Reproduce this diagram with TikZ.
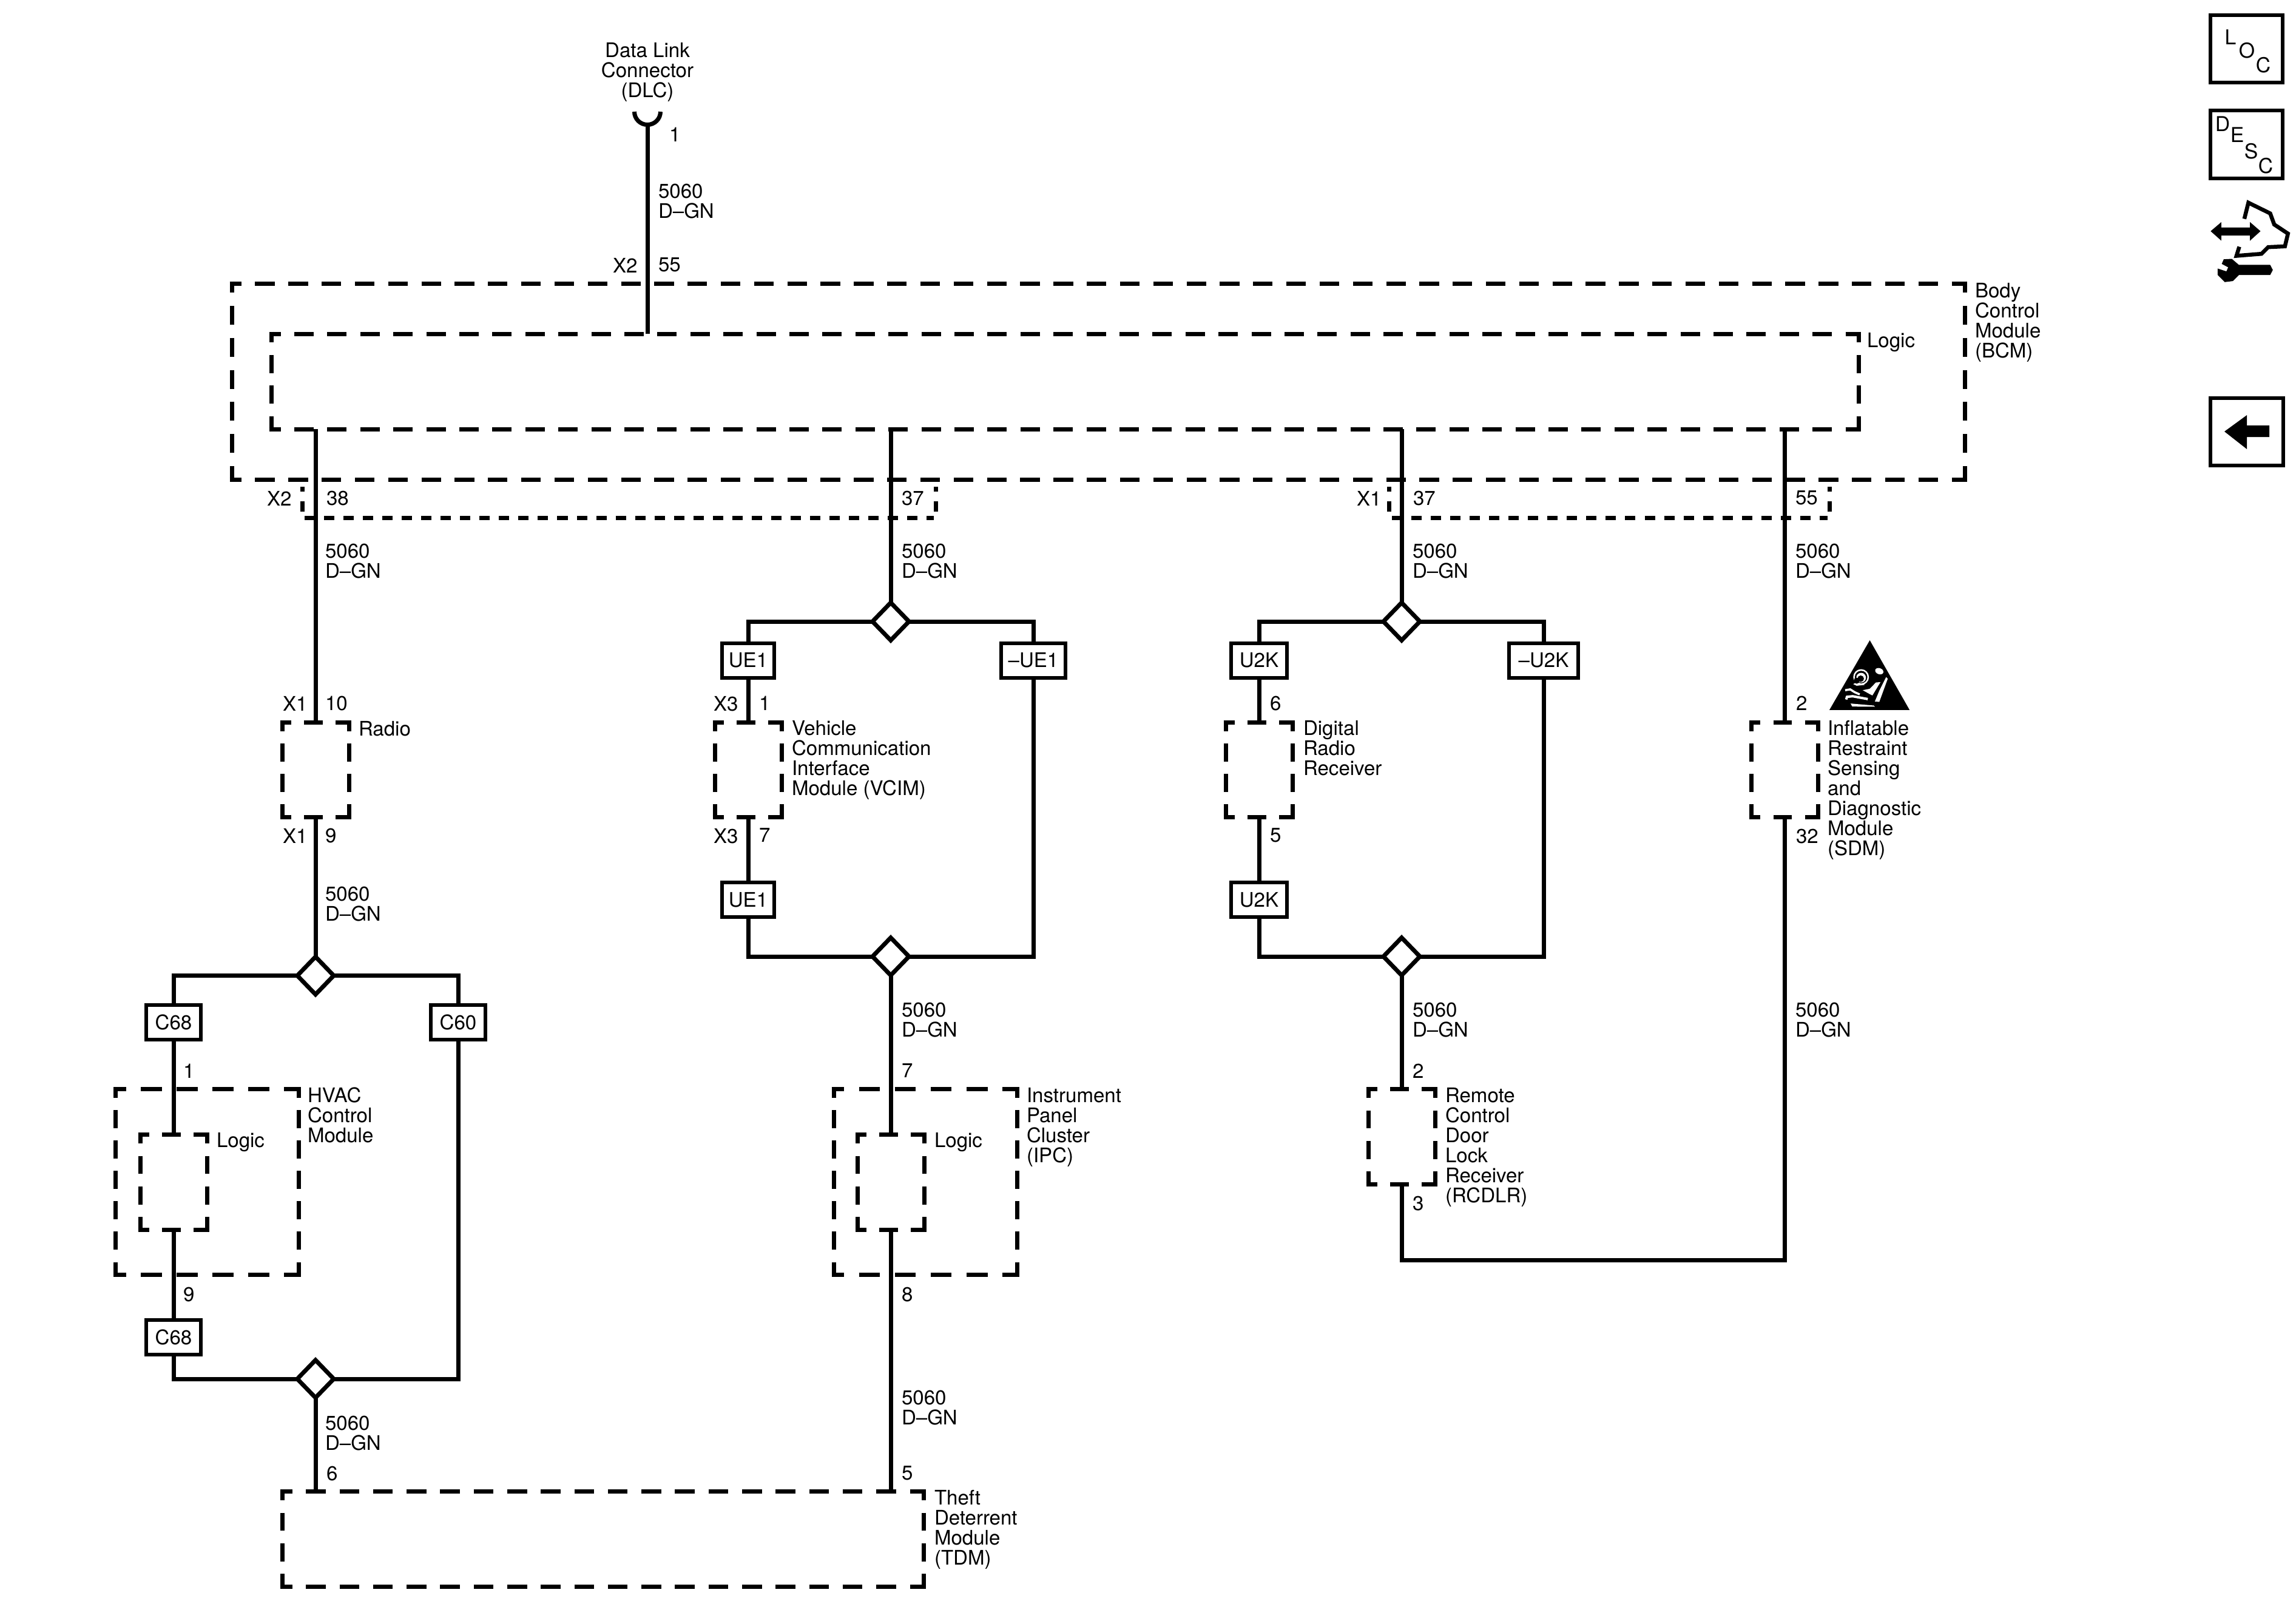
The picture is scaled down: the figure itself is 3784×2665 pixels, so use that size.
\documentclass[tikz,border=0pt]{standalone}
\usepackage{fontspec}
\setmainfont{TeX Gyre Heros}
\usetikzlibrary{shapes.geometric}

\tikzset{
  wire/.style={line width=.07cm},
  lbl/.style={anchor=north west, inner sep=0pt, outer sep=0pt, align=left, font=\fontsize{9.4pt}{9.39pt}\selectfont},
  modnode/.style={inner sep=0pt, outer sep=0pt},
  conn/.style={draw, fill=white, line width=.06cm, inner sep=0pt, outer sep=0pt, minimum width=.86cm, minimum height=.57cm, font=\fontsize{9.4pt}{9.39pt}\selectfont},
  junction/.style={diamond, draw, fill=white, line width=.07cm, inner sep=0pt, outer sep=0pt, minimum width=.6cm, minimum height=.62cm},
  iconbox/.style={draw, line width=.06cm, inner sep=0pt, outer sep=0pt, minimum width=1.19cm, minimum height=1.11cm},
  iconlet/.style={inner sep=0pt, font=\fontsize{9.6pt}{9.6pt}\selectfont}
}

% one dashed side, with equal ends: [dashes], x1, y1, x2, y2
\newcommand{\dashedge}[5][0]{%
  \pgfmathsetmacro{\edgelen}{abs(#4-#2)+abs(#5-#3)}%
  \pgfmathsetmacro{\edgen}{#1==0 ? round((\edgelen-61)/54.4) : #1}%
  \pgfmathsetmacro{\edgeon}{\edgelen/(1.9+1.7*\edgen)*0.2845}%
  \pgfmathsetmacro{\edgeoff}{0.7*\edgeon}%
  \pgfmathsetmacro{\edgephase}{0.4*\edgeon}%
  \draw[wire, dash pattern=on \edgeon pt off \edgeoff pt, dash phase=\edgephase pt] (#2,#3) -- (#4,#5);}
% dashed module: [dashes across], name, x1, y1, x2, y2
\newcommand{\modbox}[6][0]{%
  \pgfmathsetmacro{\modw}{(#5-#3)*0.01}%
  \pgfmathsetmacro{\modh}{(#6-#4)*0.01}%
  \node[modnode, minimum width=\modw cm, minimum height=\modh cm] (#2) at ({(#3+#5)/2},{(#4+#6)/2}) {};
  \dashedge[#1]{#3-3.5}{#4}{#5+3.5}{#4}
  \dashedge[#1]{#3-3.5}{#6}{#5+3.5}{#6}
  \dashedge{#3}{#4-3.5}{#3}{#6+3.5}
  \dashedge{#5}{#4-3.5}{#5}{#6+3.5}}

\begin{document}
\begin{tikzpicture}[x=.01cm, y=-.01cm]
    \useasboundingbox (0,0) rectangle (3784,2665);

    % Modules
    \modbox{bcm}{382}{467}{3238}{790}
    \modbox{bcmlogic}{447}{550}{3063}{707}
    \modbox{radio}{465}{1190.5}{575}{1346.5}
    \modbox{vcim}{1178}{1190.5}{1288}{1346.5}
    \modbox{drr}{2020}{1190.5}{2130}{1346.5}
    \modbox{sdm}{2886.5}{1190.5}{2996.5}{1346.5}
    \modbox[4]{hvac}{190.5}{1794.5}{492.5}{2100.5}
    \modbox{hvaclogic}{231}{1869.5}{341}{2026.5}
    \modbox[4]{ipc}{1374}{1794.5}{1676}{2100.5}
    \modbox{ipclogic}{1413}{1869.5}{1523}{2026.5}
    \modbox{rcdlr}{2255}{1794.5}{2365}{1951.5}
    \modbox{tdm}{465.5}{2457.5}{1522}{2614.5}

    % Inline connectors under the BCM
    \draw[wire, dash pattern=on 2.3pt off 4.55pt on 4.84pt off 0pt] (498,802) -- (498,843);
    \draw[wire, dash pattern=on 2.3pt off 4.55pt on 4.84pt off 0pt] (1542,802) -- (1542,843);
    \draw[wire, dash pattern=on 2.3pt off 4.55pt on 4.84pt off 0pt] (2289,802) -- (2289,843);
    \draw[wire, dash pattern=on 2.3pt off 4.55pt on 4.84pt off 0pt] (3015,802) -- (3015,843);
    \draw[wire, dash pattern=on 4.84pt off 4.27pt] (502,853) -- (1539,853);
    \draw[wire, dash pattern=on 4.84pt off 4.27pt] (2294,853) -- (3012,853);

    % Junctions
    \node[junction] (jvcimtop) at (1468,1024) {};
    \node[junction] (jvcimbot) at (1468,1576) {};
    \node[junction] (jdrrtop) at (2310,1024) {};
    \node[junction] (jdrrbot) at (2310,1576) {};
    \node[junction] (jhvactop) at (520,1607.5) {};
    \node[junction] (jhvacbot) at (520,2272) {};

    % Option boxes
    \node[conn] (ue1top) at (1233,1088) {UE1};
    \node[conn, minimum width=1.06cm] (noue1) at (1703,1088) {--UE1};
    \node[conn] (ue1bot) at (1233,1482.5) {UE1};
    \node[conn, minimum width=.91cm] (u2ktop) at (2075,1088) {U2K};
    \node[conn, minimum width=1.13cm] (nou2k) at (2544,1088) {--U2K};
    \node[conn, minimum width=.91cm] (u2kbot) at (2075,1482.5) {U2K};
    \node[conn, minimum width=.9cm] (c68top) at (286,1684) {C68};
    \node[conn, minimum width=.9cm] (c60) at (755,1684) {C60};
    \node[conn, minimum width=.9cm] (c68bot) at (286,2203) {C68};

    % Data link connector
    \coordinate (dlc) at (1067,205);
    \draw[wire] (1045.5,184) arc[start angle=180, end angle=0, radius=21.5];
    \draw[wire] (dlc) -- (dlc |- bcmlogic.north);

    % Wires out of the BCM
    \draw[wire] (radio.north |- bcmlogic.south) -- (radio.north);
    \draw[wire] (jvcimtop.north |- bcmlogic.south) -- (jvcimtop.north);
    \draw[wire] (jdrrtop.north |- bcmlogic.south) -- (jdrrtop.north);
    \draw[wire] (sdm.north |- bcmlogic.south) -- (sdm.north);

    % Radio and HVAC branch
    \draw[wire] (radio.south) -- (jhvactop.north);
    \draw[wire] (jhvactop.west) -| (c68top.north);
    \draw[wire] (jhvactop.east) -| (c60.north);
    \draw[wire] (c68top.south) -- (hvaclogic.north);
    \draw[wire] (hvaclogic.south) -- (c68bot.north);
    \draw[wire] (c68bot.south) |- (jhvacbot.west);
    \draw[wire] (c60.south) |- (jhvacbot.east);
    \draw[wire] (jhvacbot.south) -- (jhvacbot.south |- tdm.north);

    % VCIM and IPC branch
    \draw[wire] (jvcimtop.west) -| (ue1top.north);
    \draw[wire] (jvcimtop.east) -| (noue1.north);
    \draw[wire] (ue1top.south) -- (vcim.north);
    \draw[wire] (vcim.south) -- (ue1bot.north);
    \draw[wire] (ue1bot.south) |- (jvcimbot.west);
    \draw[wire] (noue1.south) |- (jvcimbot.east);
    \draw[wire] (jvcimbot.south) -- (ipclogic.north);
    \draw[wire] (ipclogic.south) -- (ipclogic.south |- tdm.north);

    % Radio receiver and RCDLR branch
    \draw[wire] (jdrrtop.west) -| (u2ktop.north);
    \draw[wire] (jdrrtop.east) -| (nou2k.north);
    \draw[wire] (u2ktop.south) -- (drr.north);
    \draw[wire] (drr.south) -- (u2kbot.north);
    \draw[wire] (u2kbot.south) |- (jdrrbot.west);
    \draw[wire] (nou2k.south) |- (jdrrbot.east);
    \draw[wire] (jdrrbot.south) -- (rcdlr.north);
    \coordinate (rcdlrturn) at (2310,2076);
    \draw[wire] (rcdlr.south) -- (rcdlrturn) -| (sdm.south);

    % Module labels
    \node[lbl, align=center, anchor=north] (dlctext) at (1067,70) {Data Link\\Connector\\(DLC)};
    \node[lbl] (bcmtext) at (3255,466) {Body\\Control\\Module\\(BCM)};
    \node[lbl] (bcmlogictext) at (3077,548) {Logic};
    \node[lbl] (radiotext) at (591,1188) {Radio};
    \node[lbl] (vcimtext) at (1305,1187) {Vehicle\\Communication\\Interface\\Module (VCIM)};
    \node[lbl] (drrtext) at (2148,1187) {Digital\\Radio\\Receiver};
    \node[lbl] (sdmtext) at (3012,1187) {Inflatable\\Restraint\\Sensing\\and\\Diagnostic\\Module\\(SDM)};
    \node[lbl] (hvactext) at (507,1792) {HVAC\\Control\\Module};
    \node[lbl] (hvaclogictext) at (357,1866) {Logic};
    \node[lbl] (ipctext) at (1692,1792) {Instrument\\Panel\\Cluster\\(IPC)};
    \node[lbl] (ipclogictext) at (1540,1866) {Logic};
    \node[lbl] (rcdlrtext) at (2382,1792) {Remote\\Control\\Door\\Lock\\Receiver\\(RCDLR)};
    \node[lbl] (tdmtext) at (1540,2455) {Theft\\Deterrent\\Module\\(TDM)};

    % Wire labels
    \node[lbl] (wdlc) at (1085,303) {5060\\D--GN};
    \node[lbl] (wbcma) at (536,896) {5060\\D--GN};
    \node[lbl] (wbcmb) at (1486,896) {5060\\D--GN};
    \node[lbl] (wbcmc) at (2328,896) {5060\\D--GN};
    \node[lbl] (wbcmd) at (2959,896) {5060\\D--GN};
    \node[lbl] (wradio) at (536,1461) {5060\\D--GN};
    \node[lbl] (wvcim) at (1486,1652) {5060\\D--GN};
    \node[lbl] (wdrr) at (2328,1652) {5060\\D--GN};
    \node[lbl] (wsdm) at (2959,1652) {5060\\D--GN};
    \node[lbl] (wipc) at (1486,2291) {5060\\D--GN};
    \node[lbl] (whvac) at (536,2333) {5060\\D--GN};

    % Pin labels
    \node[lbl] (pdlc) at (1103,210) {1};
    \node[lbl] (xbcm) at (1010,425) {X2};
    \node[lbl] (pbcm) at (1085,425) {55};
    \node[lbl] (xa) at (440,809) {X2};
    \node[lbl] (pa) at (538,809) {38};
    \node[lbl] (pb) at (1486,809) {37};
    \node[lbl] (xc) at (2236,809) {X1};
    \node[lbl] (pc) at (2329,809) {37};
    \node[lbl] (pd) at (2959,809) {55};
    \node[lbl] (xradioa) at (466,1147) {X1};
    \node[lbl] (pradioa) at (536,1147) {10};
    \node[lbl] (xradiob) at (466,1365) {X1};
    \node[lbl] (pradiob) at (536,1365) {9};
    \node[lbl] (xvcima) at (1176,1147) {X3};
    \node[lbl] (pvcima) at (1251,1147) {1};
    \node[lbl] (xvcimb) at (1176,1365) {X3};
    \node[lbl] (pvcimb) at (1251,1365) {7};
    \node[lbl] (pdrra) at (2093,1147) {6};
    \node[lbl] (pdrrb) at (2093,1365) {5};
    \node[lbl] (psdma) at (2960,1147) {2};
    \node[lbl] (psdmb) at (2960,1366) {32};
    \node[lbl] (phvaca) at (302,1753) {1};
    \node[lbl] (phvacb) at (302,2121) {9};
    \node[lbl] (pipca) at (1486,1753) {7};
    \node[lbl] (pipcb) at (1486,2121) {8};
    \node[lbl] (prcdlra) at (2328,1753) {2};
    \node[lbl] (prcdlrb) at (2328,1971) {3};
    \node[lbl] (ptdma) at (538,2416) {6};
    \node[lbl] (ptdmb) at (1486,2416) {5};

    % Airbag warning triangle
    \begin{scope}[shift={(3010,1050)}, x=.00333cm, y=-.00333cm]
        \fill (215,15) -- (412,360) -- (15,360) -- cycle;
        \fill[white] (172,197) circle[radius=39];
        \fill[black] (172,197) circle[radius=31];
        \fill[white] (172,200) circle[radius=24];
        \fill[black] (170,205) circle[radius=16];
        \fill[white] (133,232) -- (150,222) -- (190,236) -- (150,240) -- cycle;
        \fill[black] (150,215) circle[radius=15];
        \fill[white, rotate around={-20:(262,168)}] (262,168) ellipse[x radius=21, y radius=15];
        \fill[white] (296,197) -- (304,205) -- (262,320) -- (240,318) -- (262,265) -- cycle;
        \fill[white] (245,224) -- (268,222) -- (228,288) -- (212,280) -- (180,262) -- (215,255) -- cycle;
        \draw[white, line width=.035cm] (93,262) -- (118,258) -- (140,272) -- (165,283);
        \draw[white, line width=.04cm] (98,308) -- (102,295) -- (130,292) -- (205,306);
        \fill[white] (120,328) -- (235,338) -- (240,344) -- (128,343) -- cycle;
    \end{scope}

    % Locate and description icons
    \node[iconbox] (locbox) at (3702.5,80.5) {};
    \node[iconlet] (locl) at (3676,61) {L};
    \node[iconlet] (loco) at (3703,83) {O};
    \node[iconlet] (locc) at (3730,107) {C};
    \node[iconbox, minimum height=1.12cm] (descbox) at (3702.5,238) {};
    \node[iconlet] (descd) at (3663,204) {D};
    \node[iconlet] (desce) at (3687,222) {E};
    \node[iconlet] (descs) at (3710,249) {S};
    \node[iconlet] (descc) at (3734,273) {C};

    % Hand, arrows and wrench
    \begin{scope}[shift={(3600,320)}, x=.00333cm, y=-.00333cm]
        \draw[line width=.065cm] (297,122) -- (317,42) -- (425,95) -- (445,150) -- (513,195) -- (498,258) -- (415,262) -- (382,295) -- (258,305) -- (272,260);
        \fill (130,183) -- (183,138) -- (183,165) -- (325,165) -- (325,138) -- (377,183) -- (325,230) -- (325,205) -- (183,205) -- (183,230) -- cycle;
        \fill (270,350) -- (425,350) -- (438,375) -- (425,400) -- (270,400) -- (240,430) -- (200,435) -- (165,400) -- (165,368) -- (208,382) -- (217,362) -- (185,345) -- (195,322) -- (235,320) -- cycle;
    \end{scope}

    % Back arrow
    \node[iconbox, minimum width=1.2cm] (backbox) at (3703,711.5) {};
    \fill (3666,711) -- (3703,684) -- (3703,701) -- (3740,701) -- (3740,720) -- (3703,720) -- (3703,740) -- cycle;
\end{tikzpicture}
\end{document}
